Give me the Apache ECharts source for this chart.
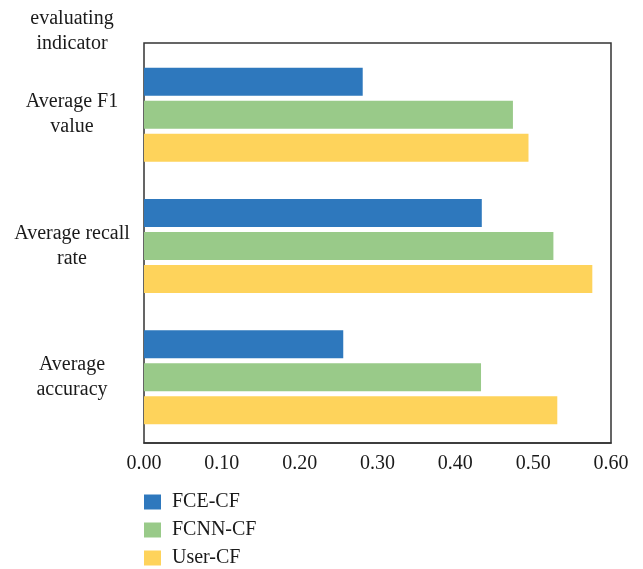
<!DOCTYPE html>
<html>
<head>
<meta charset="utf-8">
<script src="https://cdn.jsdelivr.net/npm/echarts@6/dist/echarts.min.js"></script>
<style>
  html, body { margin: 0; padding: 0; background: #fff; }
  #chart { width: 643px; height: 569px; }
</style>
</head>
<body>
<div id="chart"></div>
<script>
// Evaluation indicators (top to bottom)
const categories = ['Average F1\nvalue', 'Average recall\nrate', 'Average\naccuracy'];
const seriesNames = ['FCE-CF', 'FCNN-CF', 'User-CF'];
const fceCF  = [0.281, 0.434, 0.256];
const fcnnCF = [0.474, 0.526, 0.433];
const userCF = [0.494, 0.576, 0.531];
const xTicks = { min: 0, max: 0.6, interval: 0.1 };

const colors = ['#2E78BD', '#99CA89', '#FED35B'];
const serif = '"Liberation Serif", "DejaVu Serif", serif';
const fontSize = 20;

const chart = echarts.init(document.getElementById('chart'), null, { renderer: 'canvas' });

chart.setOption({
  animation: false,
  textStyle: { fontFamily: serif, color: '#1a1a1a' },
  grid: [
    // plotting grid (bands aligned with bar groups)
    { left: 144, right: 32, top: 49, bottom: 126, containLabel: false },
    // outer frame
    { left: 144, right: 32, top: 43, bottom: 126, show: true,
      borderColor: '#333', borderWidth: 1.5, backgroundColor: 'transparent' }
  ],
  legend: {
    orient: 'vertical',
    left: 144,
    top: 492,
    height: 77,
    padding: 0,
    itemWidth: 17,
    itemHeight: 15,
    itemGap: 8,
    icon: 'rect',
    data: seriesNames,
    textStyle: { fontFamily: serif, fontSize: fontSize, lineHeight: 20, color: '#1a1a1a', padding: [0, 0, 0, 6] }
  },
  xAxis: [
    {
      type: 'value',
      gridIndex: 0,
      min: xTicks.min,
      max: xTicks.max,
      interval: xTicks.interval,
      axisLine: { show: true, lineStyle: { color: '#333', width: 1.5 } },
      axisTick: { show: false },
      splitLine: { show: false },
      axisLabel: {
        margin: 11,
        fontSize: fontSize,
        fontFamily: serif,
        color: '#1a1a1a',
        formatter: v => v.toFixed(2)
      }
    },
    { type: 'value', gridIndex: 1, show: false, min: 0, max: 1 }
  ],
  yAxis: [
    {
      type: 'category',
      gridIndex: 0,
      inverse: true,
      data: categories,
      name: 'evaluating\nindicator',
      nameLocation: 'start',
      nameGap: -7,
      nameTextStyle: {
        fontFamily: serif,
        fontSize: fontSize,
        lineHeight: 25,
        color: '#1a1a1a',
        align: 'center',
        padding: [0, 144, 0, 0]
      },
      axisLine: { show: false },
      axisTick: { show: false },
      splitLine: { show: false },
      axisLabel: {
        margin: 72,
        align: 'center',
        fontSize: fontSize,
        lineHeight: 25,
        fontFamily: serif,
        color: '#1a1a1a'
      }
    },
    { type: 'category', gridIndex: 1, show: false, data: [''] }
  ],
  series: [
    { name: seriesNames[0], type: 'bar', data: fceCF,  barWidth: 28, barGap: '18%', itemStyle: { color: colors[0] } },
    { name: seriesNames[1], type: 'bar', data: fcnnCF, barWidth: 28, barGap: '18%', itemStyle: { color: colors[1] } },
    { name: seriesNames[2], type: 'bar', data: userCF, barWidth: 28, barGap: '18%', itemStyle: { color: colors[2] } }
  ]
});
</script>
</body>
</html>
